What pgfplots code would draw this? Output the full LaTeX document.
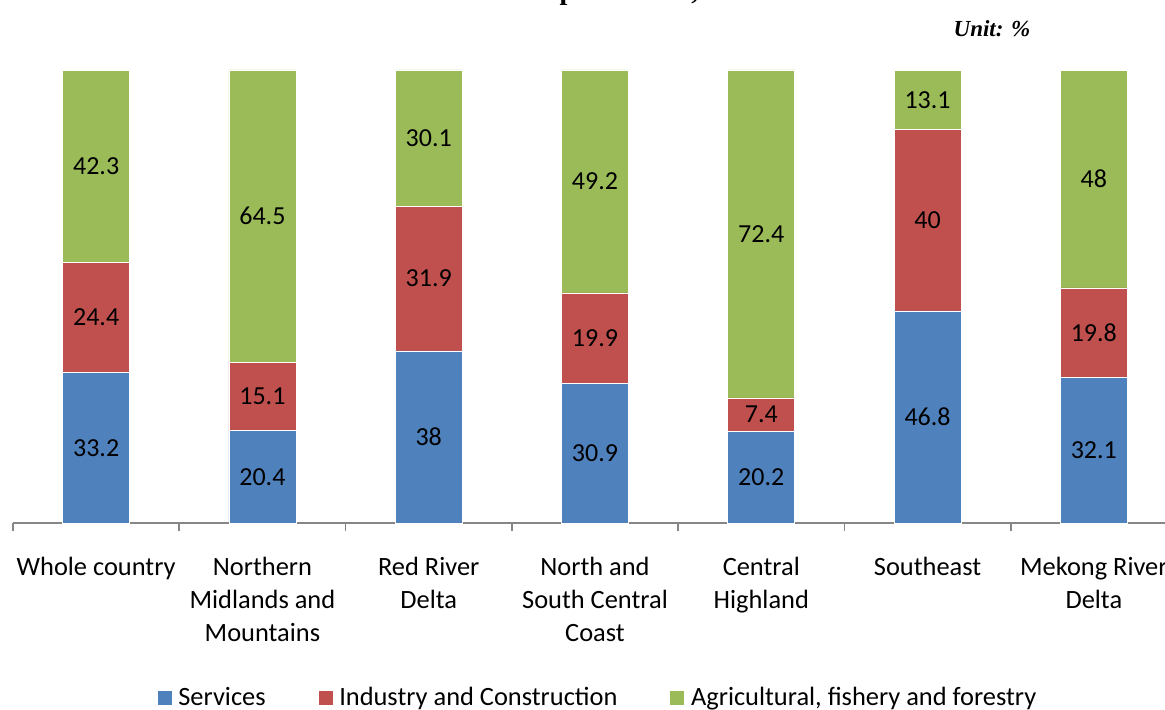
\documentclass[border=0pt]{standalone}
\usepackage{fontspec}
\setmainfont{Carlito}
\newfontfamily\titlefont{Liberation Serif}
\usepackage{pgfplots}
\pgfplotsset{compat=1.18}
\usepackage{pgfplotstable}

\definecolor{svcblue}{RGB}{79,129,189}
\definecolor{indred}{RGB}{192,80,77}
\definecolor{agrgreen}{RGB}{155,187,89}
\definecolor{axgray}{RGB}{134,134,134}

\pgfplotstableread{
idx svc  ind  agr
0   33.2 24.4 42.3
1   20.4 15.1 64.5
2   38   31.9 30.1
3   30.9 19.9 49.2
4   20.2 7.4  72.4
5   46.8 40   13.1
6   32.1 19.8 48
}\shares

\begin{document}
\begin{tikzpicture}
% the reference is cropped: title cut at the top, axis cut at the right
\useasboundingbox (0,0) rectangle (582.5pt,355pt);
\node[anchor=base west, font=\titlefont\bfseries\fontsize{14}{16}\selectfont, inner sep=0pt]
  at (153.5pt,355pt) {Sectoral structure of production, 2010};
\node[font=\titlefont\bfseries\itshape\fontsize{11.5}{13}\selectfont]
  at (496pt,340.5pt) {Unit: \%};

\begin{axis}[
    at={(6.5pt,93.5pt)}, anchor=south west,
    scale only axis,
    width=582pt, height=226.5pt,
    ybar stacked,
    bar width=33.5pt,
    xmin=-0.5, xmax=6.5,
    ymin=0, ymax=100,
    enlarge x limits=false,
    axis x line*=bottom,
    axis y line=none,
    x axis line style={-, draw=axgray, line width=0.8pt},
    xtick={0,...,6},
    xticklabels={Whole country, Northern\\Midlands and\\Mountains, Red River\\Delta,
                 North and\\South Central\\Coast, Central\\Highland, Southeast,
                 Mekong River\\Delta},
    minor xtick={-0.5,0.5,...,6.5},
    major tick length=0pt,
    minor tick length=4pt,
    xtick align=outside,
    minor tick style={draw=axgray, line width=0.8pt},
    xticklabel style={align=center, yshift=-13.5pt,
        font=\fontsize{13.2}{16.5}\selectfont},
    clip=false,
    % in stacked bars pgfplots 1.18 puts these at the middle of each segment
    nodes near coords,
    /pgf/number format/assume math mode=true,
    /pgf/number format/.cd, fixed, precision=1, /pgfplots/.cd,
    every node near coord/.append style={anchor=center, text=black,
        font=\fontsize{13}{15}\selectfont},
    legend columns=3,
    legend style={at={(0.503,-0.387)}, anchor=center, draw=none,
        font=\fontsize{13.2}{16}\selectfont,
        /tikz/every odd column/.style={column sep=1pt},
        /tikz/every even column/.style={column sep=24pt}},
    legend image code/.code={\fill[#1] (0pt,-3.7pt) rectangle (7.5pt,3.8pt);},
]
\addplot[fill=svcblue, draw=white, line width=0.3pt]
    table[x=idx, y=svc] {\shares};
\addplot[fill=indred, draw=white, line width=0.3pt]
    table[x=idx, y=ind] {\shares};
\addplot[fill=agrgreen, draw=white, line width=0.3pt]
    table[x=idx, y=agr] {\shares};
\legend{Services, Industry and Construction, {Agricultural, fishery and forestry}}
\end{axis}
\end{tikzpicture}
\end{document}
